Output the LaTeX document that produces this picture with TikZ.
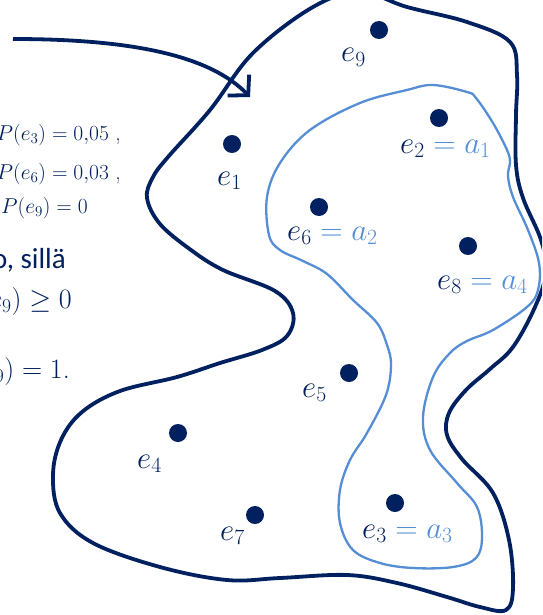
\documentclass[tikz,border=0pt]{standalone}
\usepackage{fix-cm}
\usepackage{fontspec}
\newfontfamily\carlito{Carlito}
\usetikzlibrary{arrows.meta}
\definecolor{navy}{RGB}{0,32,96}
\definecolor{lblue}{RGB}{85,142,213}
\tikzset{
  dot/.style={circle, fill=navy, draw=none, inner sep=0pt, minimum size=18pt},
  lab/.style={anchor=base west, inner sep=0pt, text=navy, font=\fontsize{31}{36}\selectfont},
  ltext/.style={anchor=base east, inner sep=0pt, text=navy},
  outer/.style={draw=navy, line width=3.8pt},
  inner/.style={draw=lblue, line width=2.3pt},
  arr/.style={draw=navy, line width=3.8pt, -{Straight Barb[length=14pt,width=30pt]}},
}
\begin{document}
\begin{tikzpicture}[x=1pt,y=-1pt]
\useasboundingbox (0,0) rectangle (542,615);
\clip (0,0) rectangle (542,615);
\fill[white] (0,0) rectangle (542,615);
% left text
\node[ltext, font=\fontsize{21.5}{26}\selectfont] (t1) at (121,140) {$P(e_3) = 0{,}05$ ,};
\node[ltext, font=\fontsize{21.5}{26}\selectfont] (t2) at (121,179) {$P(e_6) = 0{,}03$ ,};
\node[ltext, font=\fontsize{21.5}{26}\selectfont] (t3) at (88,213) {$P(e_9) = 0$};
\node[ltext, font=\carlito\fontsize{29}{34}\selectfont] (t4) at (66,268) {o, sillä};
\node[ltext, font=\fontsize{28}{32}\selectfont] (t5) at (72,308) {$P(e_9) \geq 0$};
\node[ltext, font=\fontsize{28}{32}\selectfont] (t6) at (70,378) {$P(e_9) = 1$.};
% outer set
\path[outer] plot[smooth cycle, tension=0.6] coordinates {
 (360,-8) (407,7) (467,22) (510,42) (517,75) (516,115) (516,165) (523,198)
 (541,240) (546,272) (535,307) (513,347) (490,369) (466,390) (449,413)
 (447,435) (462,459) (493,493) (509,540) (513,588) (506,610) (480,607)
 (447,597) (397,583) (347,575) (280,578) (227,580) (160,567) (93,543)
 (60,513) (53,475) (61,440) (82,412) (120,391) (177,377) (220,363)
 (262,350) (287,336) (293,313) (275,291) (223,270) (191,250) (160,224)
 (147,198) (153,177) (168,157) (210,110) (253,53) (313,7)
};
% inner set
\path[inner] plot[smooth cycle, tension=0.6] coordinates {
 (407,90) (433,85) (467,92) (476,98) (493,123) (507,150) (510,162)
 (508,176) (513,197) (528,230) (539,263) (538,290) (527,307) (493,330)
 (467,341) (450,353) (433,377) (423,417) (430,450) (457,483) (477,507)
 (482,537) (476,558) (453,567) (413,568) (380,563) (353,550) (340,523)
 (340,490) (350,460) (367,433) (386,395) (391,365) (387,345) (377,323)
 (353,300) (327,274) (303,261) (280,250) (269,235) (267,197) (280,163)
 (310,130) (360,103)
};
% arrow
\coordinate (arrS) at (13,39);
\coordinate (arrE) at (250,97);
\draw[arr] (arrS) .. controls (140,39) and (212,58) .. (arrE);
% dots
\node[dot] (d9) at (379,30) {};
\node[dot] (d1) at (232,144) {};
\node[dot] (d2) at (439,118) {};
\node[dot] (d6) at (319,207) {};
\node[dot] (d8) at (468,246) {};
\node[dot] (d5) at (349,373) {};
\node[dot] (d4) at (178,433) {};
\node[dot] (d7) at (255,515) {};
\node[dot] (d3) at (395,503) {};
% labels
\node[lab] (l9) at (341,62) {$e_9$};
\node[lab] (l1) at (217,185) {$e_1$};
\node[lab] (l2) at (400,153) {$e_2 \mathrel{\textcolor{lblue}{=}} \textcolor{lblue}{a_1}$};
\node[lab] (l6) at (287,240) {$e_6 \mathrel{\textcolor{lblue}{=}} \textcolor{lblue}{a_2}$};
\node[lab] (l8) at (437,289) {$e_8 \mathrel{\textcolor{lblue}{=}} \textcolor{lblue}{a_4}$};
\node[lab] (l5) at (302,397) {$e_5$};
\node[lab] (l4) at (137,468) {$e_4$};
\node[lab] (l7) at (220,540) {$e_7$};
\node[lab] (l3) at (362,538) {$e_3 \mathrel{\textcolor{lblue}{=}} \textcolor{lblue}{a_3}$};
\end{tikzpicture}
\end{document}
